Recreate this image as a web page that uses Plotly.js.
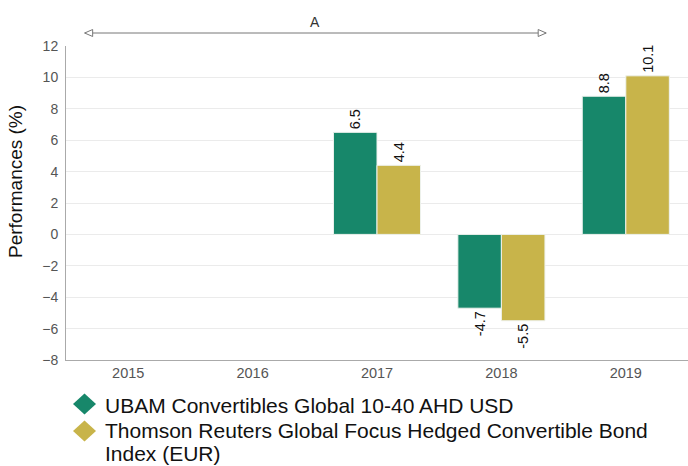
<!DOCTYPE html>
<html><head><meta charset="utf-8">
<script src="https://cdn.plot.ly/plotly-3.0.1.min.js"></script>
<style>html,body{margin:0;padding:0;background:#fff}#chart{width:688px;height:466px}</style>
</head><body><div id="chart"></div>
<script>
const years = ['2015','2016','2017','2018','2019'];
const fundName = 'UBAM Convertibles Global 10-40 AHD USD';
const indexNameLines = ['Thomson Reuters Global Focus Hedged Convertible Bond', 'Index (EUR)'];
const fundValues = [null, null, 6.5, -4.7, 8.8];
const indexValues = [null, null, 4.4, -5.5, 10.1];
const periodLabel = 'A';
const periodStart = -0.35, periodEnd = 3.36;

const green = '#17876a', gold = '#c8b44a';
const FONT = 'Liberation Sans, Arial, sans-serif';
const fmt = v => v === null ? '' : v.toFixed(1);
const barCommon = {type:'bar', textposition:'outside', textangle:-90, cliponaxis:false,
  constraintext:'none', textfont:{family:FONT, size:14.5, color:'#111'},
  showlegend:false, hoverinfo:'skip'};
const data = [
  Object.assign({}, barCommon, {name:fundName, x:years, y:fundValues, text:fundValues.map(fmt), marker:{color:green, line:{color:'#eef2ee', width:1}}}),
  Object.assign({}, barCommon, {name:indexNameLines.join(' '), x:years, y:indexValues, text:indexValues.map(fmt), marker:{color:gold, line:{color:'#eef2ee', width:1}}})
];

const plotL = 66, plotT = 46, plotW = 622, plotH = 314;
const px2x = px => (px - plotL) / plotW;
const py2y = py => (plotT + plotH - py) / plotH;
const arrowY = py2y(33);
const diamond = 'M-11.5,0 L0,10.5 L11.5,0 L0,-10.5 Z';

const legendItems = [
  {color:green, lines:[fundName], markerY:404, textY:[405]},
  {color:gold, lines:indexNameLines, markerY:431, textY:[430, 453]}
];
const legendShapes = legendItems.map(it => ({type:'path', xref:'paper', yref:'paper', xsizemode:'pixel', ysizemode:'pixel',
  xanchor:px2x(84.5), yanchor:py2y(it.markerY), path:diamond, line:{width:0}, fillcolor:it.color}));
const legendAnns = [];
legendItems.forEach(it => it.lines.forEach((t, i) => legendAnns.push({xref:'paper', yref:'paper', x:px2x(104), y:py2y(it.textY[i]),
  xanchor:'left', yanchor:'middle', text:t, showarrow:false, borderpad:0, font:{family:FONT, size:21, color:'#111'}})));

const layout = {
  width:688, height:466,
  margin:{l:plotL, r:0, t:plotT, b:466 - plotT - plotH, autoexpand:false},
  font:{family:FONT, color:'#555'},
  paper_bgcolor:'#fff', plot_bgcolor:'#fff',
  barmode:'group', bargap:0.3, bargroupgap:0,
  showlegend:false,
  xaxis:{type:'category', showline:true, linecolor:'#aaa', linewidth:1, ticks:'', tickfont:{size:14.5, color:'#555'}, showgrid:false, fixedrange:true, automargin:false},
  yaxis:{range:[-8,12], dtick:2, showline:true, linecolor:'#aaa', linewidth:1, gridcolor:'#ebebeb', zeroline:false,
    tickfont:{size:14, color:'#555'}, ticks:'', ticklen:0, ticklabelstandoff:4, automargin:false},
  shapes:[
    {type:'line', xref:'x', yref:'paper', x0:periodStart, x1:periodEnd, y0:arrowY, y1:arrowY, line:{color:'#777', width:1}},
    {type:'path', xref:'x', yref:'paper', xsizemode:'pixel', ysizemode:'pixel', xanchor:periodStart, yanchor:arrowY, path:'M0,0 L8,-3.5 L8,3.5 Z', line:{color:'#777', width:1}, fillcolor:'#fff'},
    {type:'path', xref:'x', yref:'paper', xsizemode:'pixel', ysizemode:'pixel', xanchor:periodEnd, yanchor:arrowY, path:'M0,0 L-8,-3.5 L-8,3.5 Z', line:{color:'#777', width:1}, fillcolor:'#fff'}
  ].concat(legendShapes),
  annotations:[
    {xref:'x', yref:'paper', x:(periodStart+periodEnd)/2, y:py2y(22), xanchor:'center', yanchor:'middle', text:periodLabel, showarrow:false, font:{family:FONT, size:14, color:'#333'}},
    {xref:'paper', yref:'paper', x:px2x(15), y:py2y(182), xanchor:'center', yanchor:'middle', textangle:-90, text:'Performances (%)', showarrow:false, font:{family:FONT, size:19, color:'#111'}}
  ].concat(legendAnns)
};
Plotly.newPlot('chart', data, layout, {displayModeBar:false, staticPlot:true});
</script></body></html>
